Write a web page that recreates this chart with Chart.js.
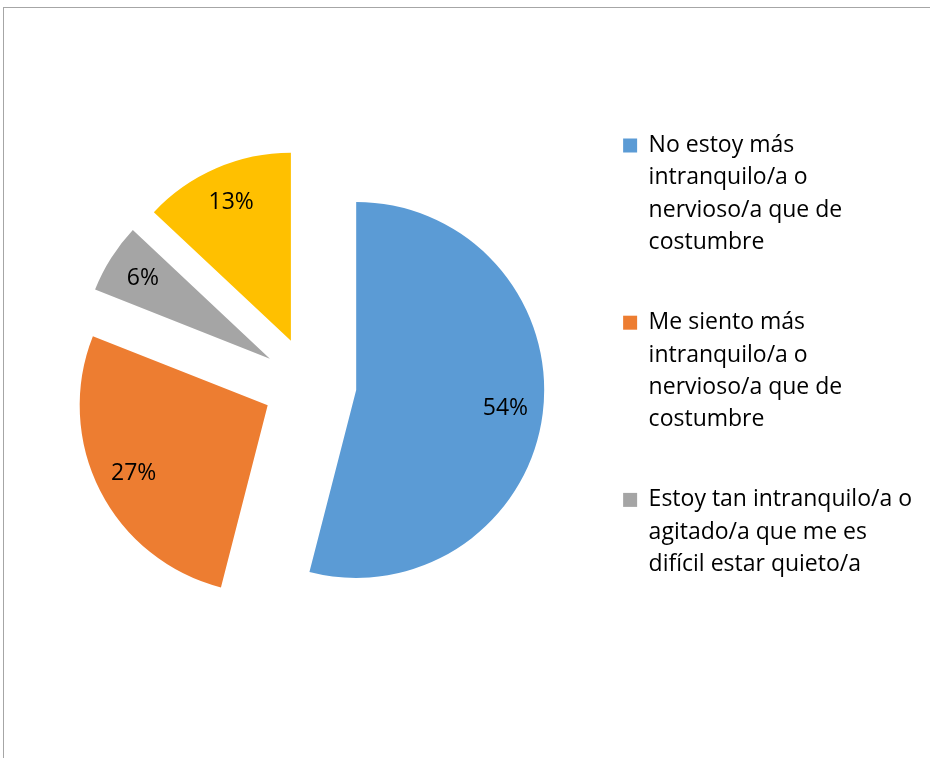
<!DOCTYPE html>
<html lang="es">
<head>
<meta charset="utf-8">
<title>Intranquilidad</title>
<script src="https://cdn.jsdelivr.net/npm/chart.js@4.4.1/dist/chart.umd.min.js"></script>
<style>
  html, body { margin: 0; padding: 0; background: #fff; overflow: hidden; }
  .marco {
    position: absolute; left: 3px; top: 7px; width: 960px; height: 780px;
    border-left: 1px solid #a6a6a6; border-top: 1px solid #a6a6a6;
  }
  .lienzo { position: absolute; left: 0; top: 0; width: 926px; height: 750px; }
</style>
</head>
<body>
<div class="marco"><div class="lienzo"><canvas id="grafico"></canvas></div></div>
<script>
// Respuestas (una línea por renglón de la leyenda)
const categorias = [
    ["No estoy más", "intranquilo/a o", "nervioso/a que de", "costumbre"],
    ["Me siento más", "intranquilo/a o", "nervioso/a que de", "costumbre"],
    ["Estoy tan intranquilo/a o", "agitado/a que me es", "difícil estar quieto/a"],
    ["Estoy tan intranquilo/a o", "agitado/a que tengo que", "estar moviéndome"]
];
const porcentajes = [54, 27, 6, 13];
const colores = ["#5B9BD5", "#ED7D31", "#A5A5A5", "#FFC000"];

// la leyenda solo alcanza a mostrar las tres primeras respuestas
const ENTRADAS_LEYENDA = 3;
const RADIO = 188;
const SEPARACION = 47;    // distancia a la que se separa cada porción del centro
const FUENTE = "'Open Sans'";

// separa todas las porciones a lo largo de su ángulo medio, sin cambiar el radio
const porcionesSeparadas = {
    id: "porcionesSeparadas",
    afterDatasetUpdate(chart, args) {
        args.meta.data.forEach(function (arc) {
            const medio = (arc.startAngle + arc.endAngle) / 2;
            arc.x += Math.cos(medio) * SEPARACION;
            arc.y += Math.sin(medio) * SEPARACION;
        });
    }
};

// porcentaje dentro de cada porción
const etiquetasPorcentaje = {
    id: "etiquetasPorcentaje",
    afterDatasetsDraw(chart) {
        const ctx = chart.ctx;
        const meta = chart.getDatasetMeta(0);
        ctx.save();
        ctx.font = "23px " + FUENTE;
        ctx.fillStyle = "#000";
        ctx.textAlign = "center";
        ctx.textBaseline = "middle";
        meta.data.forEach(function (arc, i) {
            const medio = (arc.startAngle + arc.endAngle) / 2;
            const dist = arc.outerRadius * 0.8;
            ctx.fillText(porcentajes[i] + "%", arc.x + Math.cos(medio) * dist, arc.y + Math.sin(medio) * dist);
        });
        ctx.restore();
    }
};

new Chart(document.getElementById("grafico"), {
    type: "pie",
    data: {
        labels: categorias.map(l => l.join(" ")),
        datasets: [{
            data: porcentajes,
            backgroundColor: colores,
            borderWidth: 0,
            hoverOffset: 0
        }]
    },
    options: {
        responsive: true,
        maintainAspectRatio: false,
        animation: false,
        radius: RADIO,
        layout: { padding: { left: 40, top: 78, right: 8, bottom: 76 } },
        plugins: {
            tooltip: { enabled: false },
            legend: {
                position: "right",
                align: "start",
                labels: {
                    boxWidth: 14,
                    boxHeight: 14,
                    padding: 48,
                    color: "#000",
                    font: { family: FUENTE, size: 23, lineHeight: 32.3 / 23 },
                    generateLabels() {
                        return categorias.slice(0, ENTRADAS_LEYENDA).map(function (lineas, i) {
                            return { text: lineas, fillStyle: colores[i], strokeStyle: colores[i], lineWidth: 0, hidden: false, index: i };
                        });
                    }
                }
            }
        }
    },
    plugins: [porcionesSeparadas, etiquetasPorcentaje]
});
</script>
</body>
</html>
